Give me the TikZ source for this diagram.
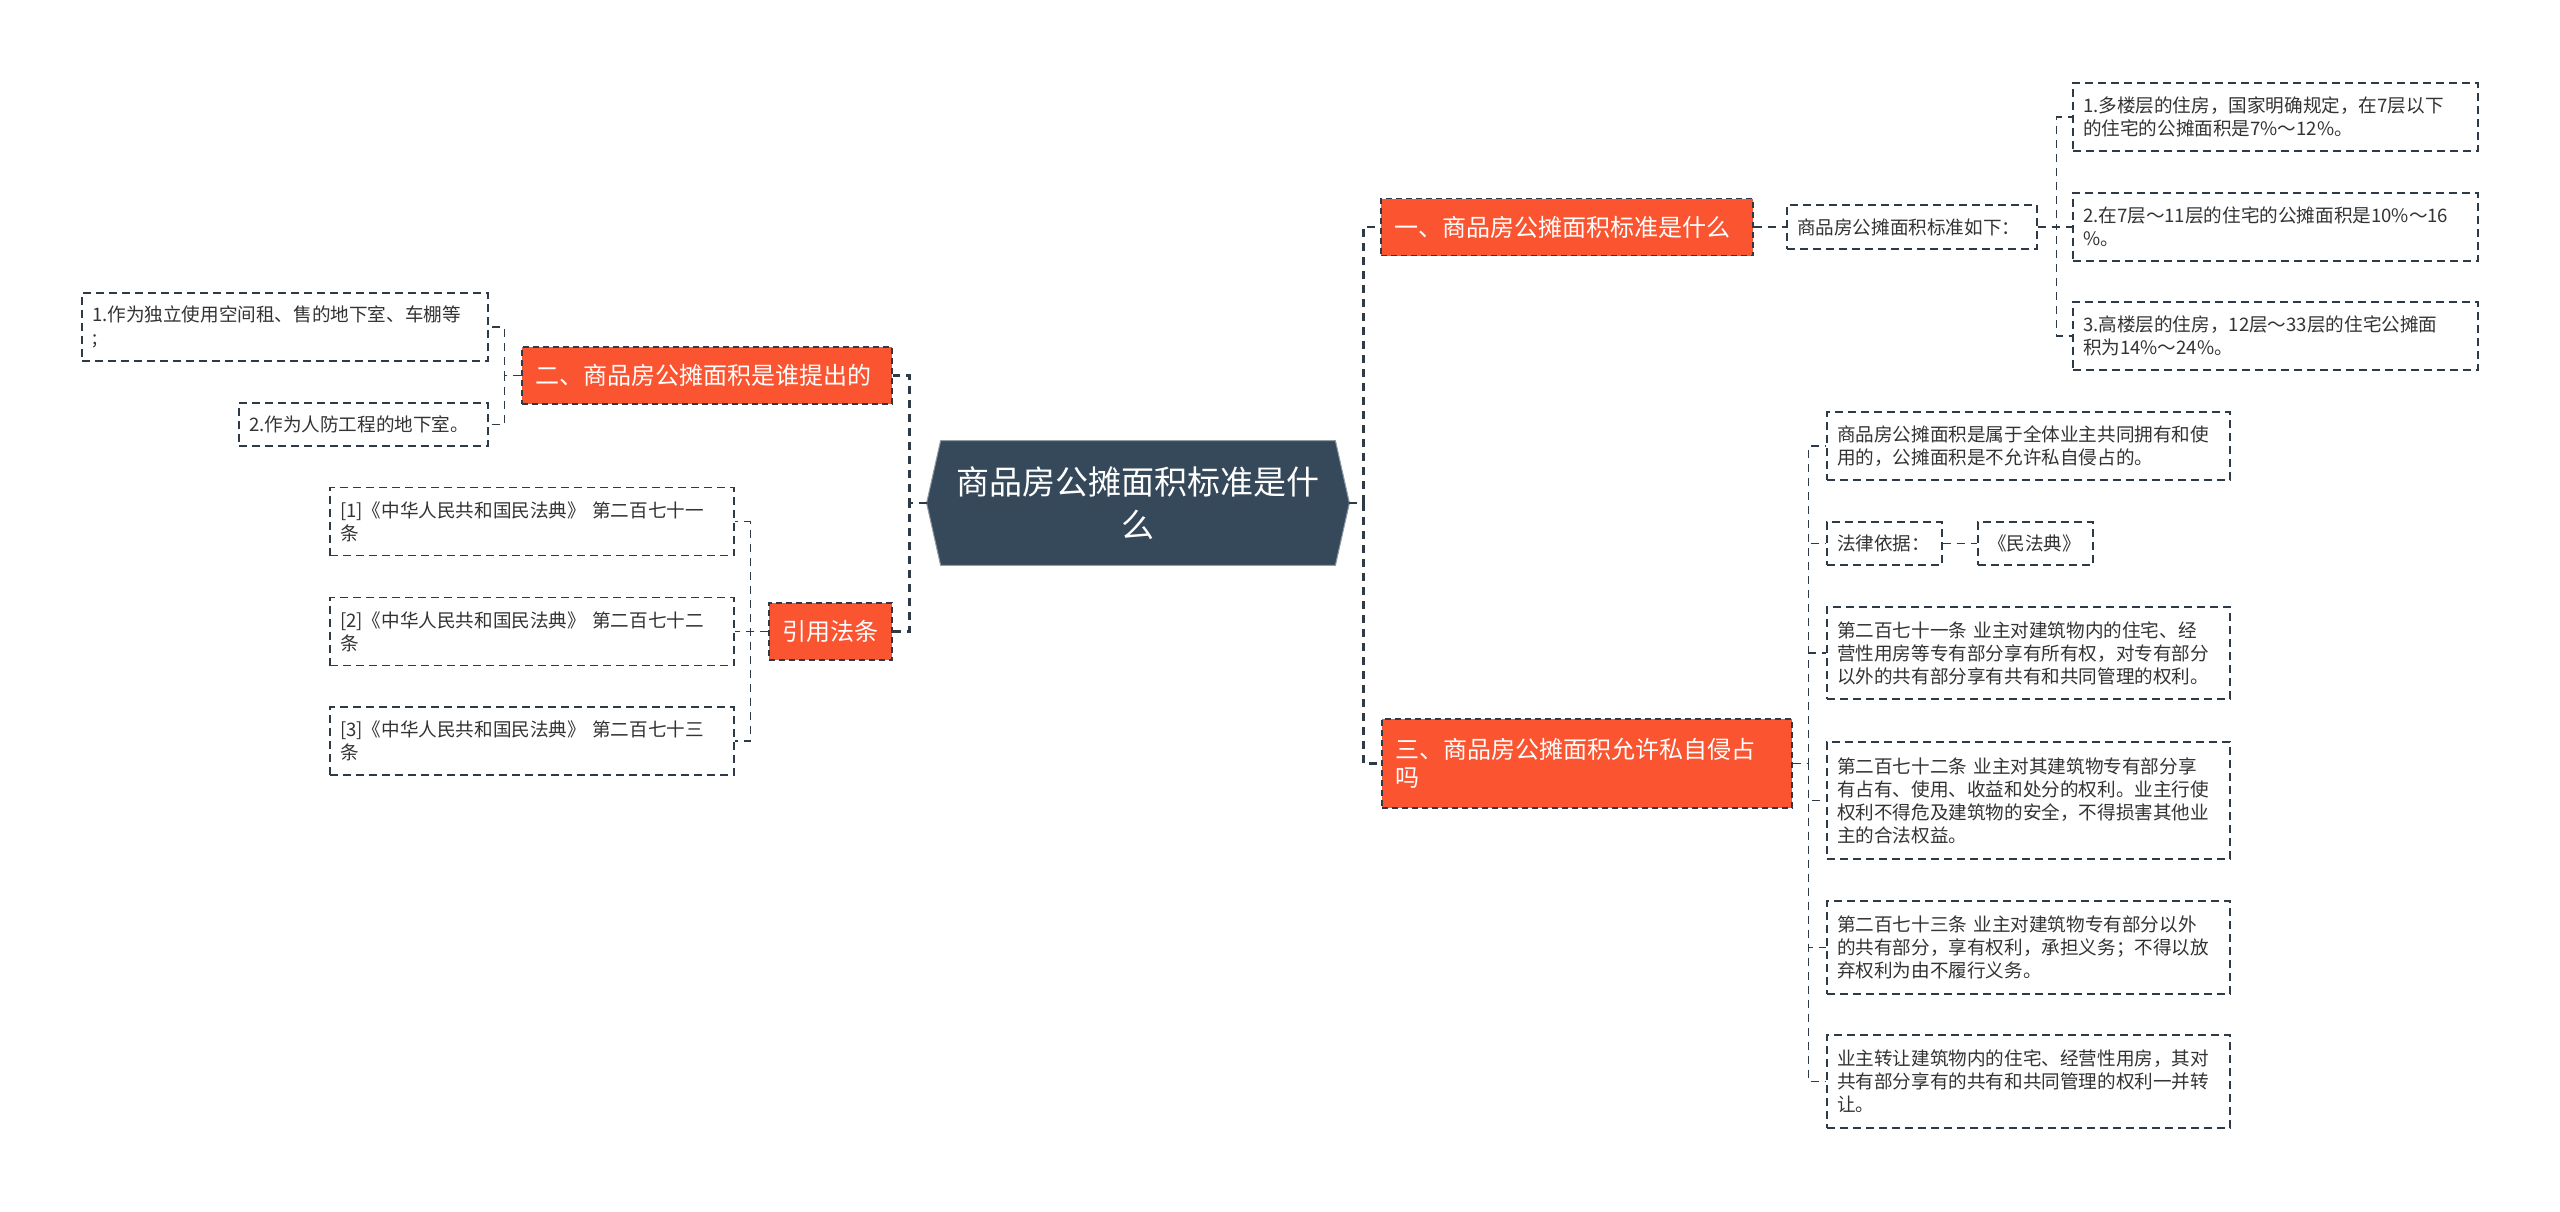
\documentclass[tikz,border=0pt]{standalone}
\usepackage{fontspec}
\setmainfont{Noto Sans CJK SC}
\usetikzlibrary{backgrounds}
\definecolor{Ink}{HTML}{2E3B47}
\definecolor{Slate}{HTML}{36495A}
\definecolor{Flame}{HTML}{FA5431}
\definecolor{Body}{HTML}{333333}

\begin{document}
\begin{tikzpicture}[x=0.5pt,y=-0.5pt,
      root/.style={text=white,align=center,text width=190pt,minimum width=211pt,
        minimum height=62pt,inner sep=0pt,font=\fontsize{16.5pt}{21.5pt}\selectfont},
      branch/.style={draw=Ink,dash pattern=on 3pt off 2pt,line width=0.6pt,fill=Flame,
        text=white,align=left,inner xsep=6.5pt,inner ysep=0pt,minimum height=28.5pt,
        font=\fontsize{12pt}{14pt}\selectfont},
      leaf/.style={draw=Ink,dash pattern=on 4pt off 2.5pt,line width=0.6pt,fill=white,
        text=Body,align=left,text width=192.5pt,inner xsep=5pt,inner ysep=0pt,
        minimum height=34pt,font=\fontsize{9.3pt}{11.5pt}\selectfont},
      trunk/.style={draw=Ink,line width=1.2pt,dash pattern=on 4pt off 3pt},
      twig/.style={draw=Ink,line width=0.85pt,dash pattern=on 4pt off 3pt}]
      \useasboundingbox (0,0) rectangle (2560,1211);
      % centre
      \node[root] (root) at (1138,503) {商品房公摊面积标准是什\\么};
      \begin{scope}[on background layer]
        \fill[white] (0,0) rectangle (2560,1211);
        \fill[Slate,draw=Slate!55!white,line width=0.5pt] (root.west)
          -- ([xshift=7pt]root.north west) -- ([xshift=-7pt]root.north east)
          -- (root.east) -- ([xshift=-7pt]root.south east)
          -- ([xshift=7pt]root.south west) -- cycle;
      \end{scope}
      % main branches
      \node[branch,text width=173pt] (b1) at (1567,227) {一、商品房公摊面积标准是什么};
      \node[branch,text width=172pt] (b2) at (707,375.5) {二、商品房公摊面积是谁提出的};
      \node[branch,text width=192pt,minimum height=44.5pt] (b3) at (1587,763.5)
        {三、商品房公摊面积允许私自侵占\\吗};
      \node[branch,text width=48.5pt] (b4) at (830.5,631.5) {引用法条};
      % branch one
      \node[leaf,text width=115pt,minimum height=22pt] (l1) at (1912,227) {商品房公摊面积标准如下：};
      \node[leaf] (l1a) at (2275.5,117) {1.多楼层的住房，国家明确规定，在7层以下\\的住宅的公摊面积是7\%～12\%。};
      \node[leaf] (l1b) at (2275.5,227) {2.在7层～11层的住宅的公摊面积是10\%～16\\\%。};
      \node[leaf] (l1c) at (2275.5,336) {3.高楼层的住房，12层～33层的住宅公摊面\\积为14\%～24\%。};
      % branch two
      \node[leaf,text width=193pt] (l2a) at (285,327) {1.作为独立使用空间租、售的地下室、车棚等\\;};
      \node[leaf,text width=114.5pt,minimum height=21.5pt] (l2b) at (363.5,424.5) {2.作为人防工程的地下室。};
      % references
      \node[leaf,text width=192pt] (r1) at (532,521.5) {[1]《中华人民共和国民法典》 第二百七十一\\条};
      \node[leaf,text width=192pt] (r2) at (532,631.5) {[2]《中华人民共和国民法典》 第二百七十二\\条};
      \node[leaf,text width=192pt] (r3) at (532,741) {[3]《中华人民共和国民法典》 第二百七十三\\条};
      % branch three
      \node[leaf,text width=191.5pt] (c1) at (2028.5,446) {商品房公摊面积是属于全体业主共同拥有和使\\用的，公摊面积是不允许私自侵占的。};
      \node[leaf,text width=47.5pt,minimum height=21.5pt] (c2) at (1884.5,543.5) {法律依据：};
      \node[leaf,text width=47.5pt,minimum height=21.5pt] (c2a) at (2035.5,543.5) {《民法典》};
      \node[leaf,text width=191.5pt,minimum height=46pt] (c3) at (2028.5,653) {第二百七十一条 业主对建筑物内的住宅、经\\营性用房等专有部分享有所有权，对专有部分\\以外的共有部分享有共有和共同管理的权利。};
      \node[leaf,text width=191.5pt,minimum height=58.5pt] (c4) at (2028.5,800.5) {第二百七十二条 业主对其建筑物专有部分享\\有占有、使用、收益和处分的权利。业主行使\\权利不得危及建筑物的安全，不得损害其他业\\主的合法权益。};
      \node[leaf,text width=191.5pt,minimum height=46.5pt] (c5) at (2028.5,947.5) {第二百七十三条 业主对建筑物专有部分以外\\的共有部分，享有权利，承担义务；不得以放\\弃权利为由不履行义务。};
      \node[leaf,text width=191.5pt,minimum height=46.5pt] (c6) at (2028.5,1081.5) {业主转让建筑物内的住宅、经营性用房，其对\\共有部分享有的共有和共同管理的权利一并转\\让。};
      % connectors
      \draw[trunk] (root.east) -- ++(14,0) |- (b1.west);
      \draw[trunk] (root.east) -- ++(14,0) |- (b3.west);
      \draw[trunk] (root.west) -- ++(-17,0) |- (b2.east);
      \draw[trunk] (root.west) -- ++(-17,0) |- (b4.east);
      \draw[twig] (b1.east) -- (l1.west);
      \foreach \n in {l1a,l1b,l1c} \draw[twig] (l1.east) -- ++(19,0) |- (\n.west);
      \foreach \n in {l2a,l2b} \draw[twig] (b2.west) -- ++(-17,0) |- (\n.east);
      \foreach \n in {r1,r2,r3} \draw[twig] (b4.west) -- ++(-18,0) |- (\n.east);
      \foreach \n in {c1,c2,c3,c4,c5,c6} \draw[twig] (b3.east) -- ++(16,0) |- (\n.west);
      \draw[twig] (c2.east) -- (c2a.west);
    \end{tikzpicture}
\end{document}
